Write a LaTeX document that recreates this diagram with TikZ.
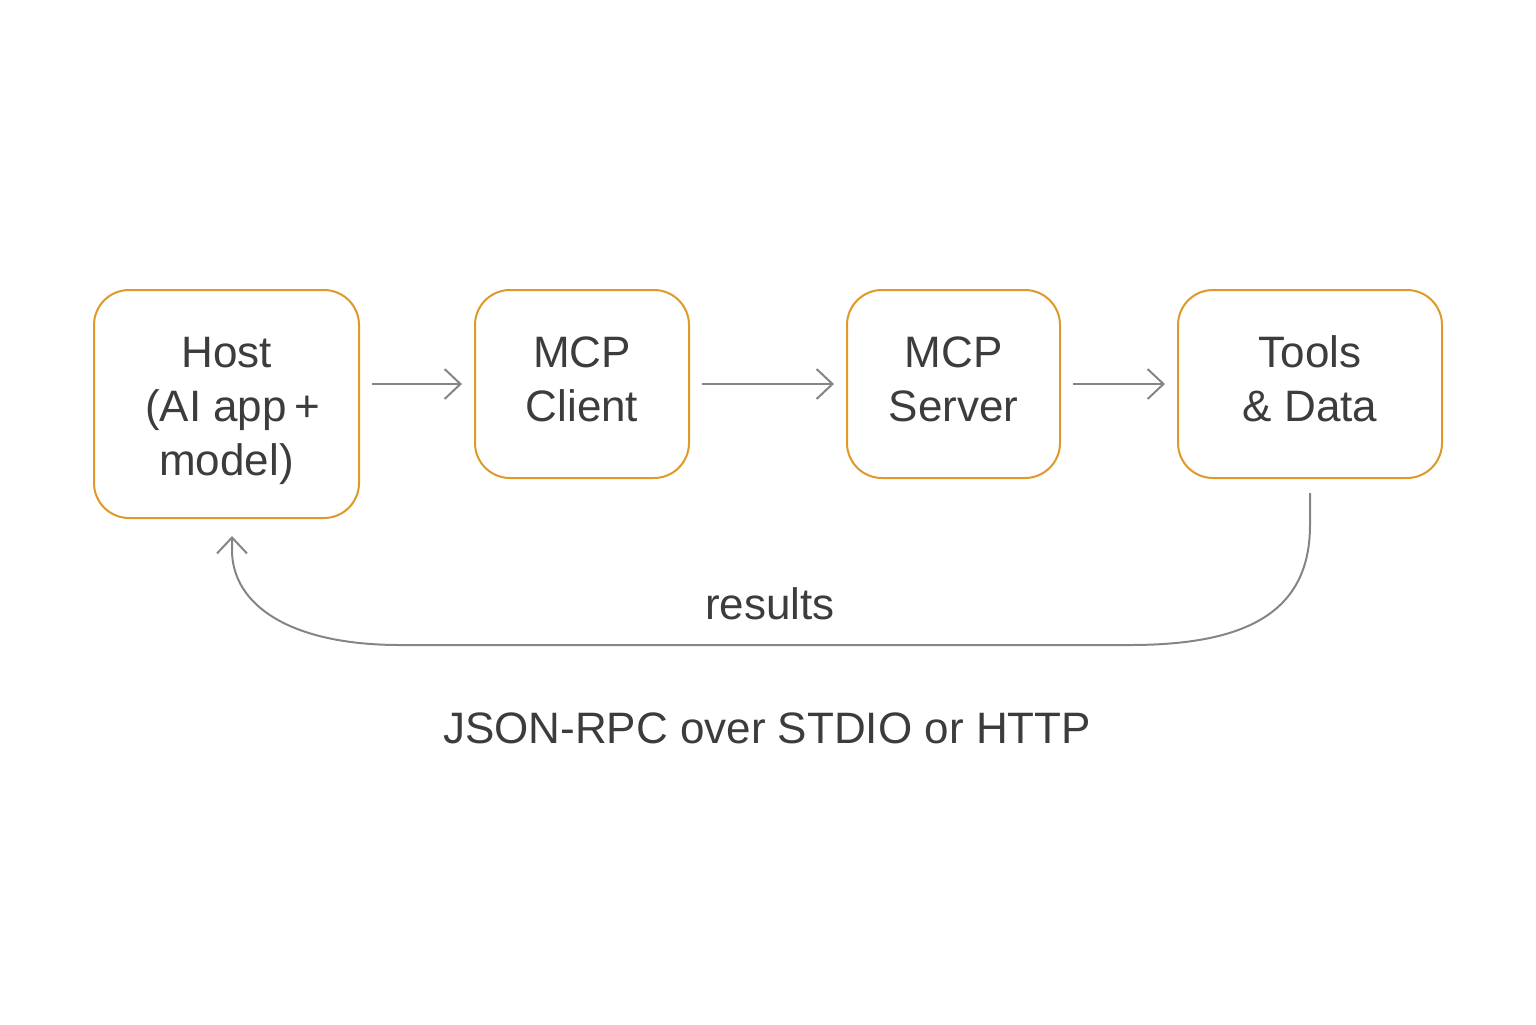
\documentclass[tikz,border=0pt]{standalone}
\usepackage{fontspec}
\setmainfont{Liberation Sans}
\usetikzlibrary{arrows.meta}
\definecolor{boxorange}{RGB}{222,153,40}
\definecolor{linegray}{RGB}{133,133,133}
\definecolor{txtgray}{RGB}{60,60,60}
\tikzset{
  stage/.style={draw=boxorange, line width=1pt, rounded corners=17.5pt, fill=white,
    text=txtgray, align=center, inner sep=0pt,
    font=\fontsize{22pt}{27pt}\selectfont},
  flow/.style={draw=linegray, line width=1pt, -{Straight Barb[length=8pt,width=15pt,line width=1pt]}},
  lbl/.style={text=txtgray, font=\fontsize{22pt}{27pt}\selectfont, inner sep=0pt}
}
\begin{document}
\begin{tikzpicture}[x=0.5pt,y=-0.5pt]
\useasboundingbox (0,0) rectangle (1536,1024);
\node[stage, minimum width=132.5pt, minimum height=114pt] (host) at (226.5,404) {Host\rule{0pt}{22pt}\\\hspace*{6pt}(AI app\,+\\model)};
\node[stage, minimum width=107pt, minimum height=94pt] (client) at (582,384) {MCP\\Client\rule[-5pt]{0pt}{0pt}};
\node[stage, minimum width=106.5pt, minimum height=94pt] (server) at (953.5,384) {MCP\\Server\rule[-5pt]{0pt}{0pt}};
\node[stage, minimum width=132pt, minimum height=94pt] (tools) at (1310,384) {Tools\\\& Data\rule[-5pt]{0pt}{0pt}};

\draw[flow, shorten <=6pt, shorten >=6pt] (host.east |- client.west) -- (client.west);
\draw[flow, shorten <=6pt, shorten >=6pt] (client.east) -- (server.west);
\draw[flow, shorten <=6pt, shorten >=6pt] (server.east) -- (tools.west);

\coordinate (retstart) at ([yshift=-7pt]tools.south);
\coordinate (retend) at ([xshift=2.75pt,yshift=-8.5pt]host.south);
\draw[flow] (retstart) -- (1310,525) .. controls (1310,610) and (1250,645) .. (1130,645)
  -- (400,645) .. controls (290,645) and (232,605) .. (232,550) -- (retend);

\node[lbl, anchor=base] (results) at (770,619) {results};
\node[lbl, anchor=base] (proto) at (767,743) {JSON-RPC over STDIO or HTTP};
\end{tikzpicture}
\end{document}
